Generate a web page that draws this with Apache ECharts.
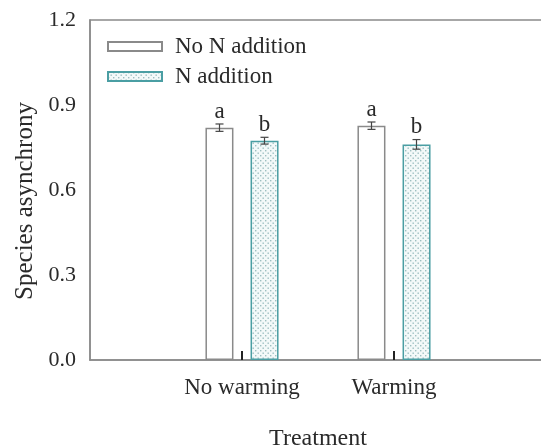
<!DOCTYPE html>
<html>
<head>
<meta charset="utf-8">
<script src="https://cdn.jsdelivr.net/npm/echarts@6/dist/echarts.min.js"></script>
<style>
  html, body { margin: 0; padding: 0; background: #fff; }
  #chart { width: 541px; height: 445px; }
</style>
</head>
<body>
<div id="chart"></div>
<script>
// data
const categories = ['', 'No warming', 'Warming', '']
const groupIndex = [1, 2]
const noNMean = [0.820, 0.827]
const noNErr = [0.013, 0.013]
const nMean = [0.774, 0.761]
const nErr = [0.012, 0.017]
const noNLetters = ['a', 'a']
const nLetters = ['b', 'b']
const yTicks = [0, 0.3, 0.6, 0.9, 1.2]

const FONT = '"Liberation Serif", "Times New Roman", serif'
const TEXT = '#2a2a2a'
const BAR_W = 28
const HALF_STEP = 22.5

// dotted fill for the N addition bars
function dotPattern() {
  const c = document.createElement('canvas')
  c.width = 5
  c.height = 5
  const ctx = c.getContext('2d')
  ctx.fillStyle = '#f3f9f9'
  ctx.fillRect(0, 0, 5, 5)
  ctx.fillStyle = '#9dbfc1'
  ctx.fillRect(0, 0, 1.4, 1.4)
  ctx.fillRect(2.5, 2.5, 1.4, 1.4)
  return c
}

function errSeries(means, errs, letters, offset) {
  return {
    type: 'custom',
    z: 5,
    data: groupIndex.map((g, i) => [g, means[i], errs[i], letters[i]]),
    renderItem: (params, api) => {
      const x = api.coord([api.value(0), 0])[0] + offset
      const yHi = api.coord([api.value(0), api.value(1) + api.value(2)])[1]
      const yLo = api.coord([api.value(0), api.value(1) - api.value(2)])[1]
      const line = { stroke: '#444', lineWidth: 1.2 }
      return {
        type: 'group',
        children: [
          { type: 'line', shape: { x1: x, y1: yHi, x2: x, y2: yLo }, style: line },
          { type: 'line', shape: { x1: x - 4, y1: yHi, x2: x + 4, y2: yHi }, style: line },
          { type: 'line', shape: { x1: x - 4, y1: yLo, x2: x + 4, y2: yLo }, style: line },
          {
            type: 'text',
            style: {
              text: api.value(3), x: x, y: yHi - 1,
              align: 'center', verticalAlign: 'bottom',
              font: '23px ' + FONT, fill: TEXT,
            },
          },
        ],
      }
    },
  }
}

const chart = echarts.init(document.getElementById('chart'))
chart.setOption({
  animation: false,
  backgroundColor: '#fff',
  grid: {
    left: 90, width: 456, top: 20, bottom: 85,
    containLabel: false, outerBoundsMode: 'none',
    show: true, borderColor: '#8a8a8a', borderWidth: 1.5,
  },
  legend: {
    orient: 'vertical',
    left: 102, top: 30,
    icon: 'rect',
    itemWidth: 54, itemHeight: 9, itemGap: 7,
    textStyle: {
      fontFamily: FONT, fontSize: 23, color: TEXT, lineHeight: 23,
      padding: [0, 0, 0, 8],
    },
    data: ['No N addition', 'N addition'],
  },
  xAxis: {
    type: 'category',
    data: categories,
    boundaryGap: false,
    name: 'Treatment',
    nameLocation: 'middle',
    nameGap: 67,
    nameTextStyle: { fontFamily: FONT, fontSize: 24, color: TEXT },
    axisLine: { lineStyle: { color: '#8a8a8a', width: 1.5 } },
    axisTick: {
      inside: true, length: 9,
      interval: (i) => i === 1 || i === 2,
      lineStyle: { color: '#222', width: 2 },
    },
    axisLabel: {
      margin: 16, interval: 0,
      fontFamily: FONT, fontSize: 23, color: TEXT,
    },
    splitLine: { show: false },
  },
  yAxis: {
    type: 'value',
    min: yTicks[0], max: yTicks[yTicks.length - 1], interval: 0.3,
    name: 'Species asynchrony',
    nameLocation: 'middle',
    nameGap: 50,
    nameTextStyle: { fontFamily: FONT, fontSize: 25, color: TEXT, padding: [0, 22, 0, 0] },
    axisLine: { show: true, lineStyle: { color: '#8a8a8a', width: 1.5 } },
    axisTick: { inside: true, length: 10, lineStyle: { color: '#222', width: 2 } },
    axisLabel: {
      margin: 14,
      fontFamily: FONT, fontSize: 22, color: TEXT,
      formatter: (v) => v.toFixed(1),
    },
    splitLine: { show: false },
  },
  series: [
    {
      name: 'No N addition',
      type: 'bar',
      barWidth: BAR_W,
      barGap: '61%',
      data: groupIndex.map((g, i) => [g, noNMean[i]]),
      itemStyle: { color: '#fff', borderColor: '#8a8a8a', borderWidth: 1.5 },
    },
    {
      name: 'N addition',
      type: 'bar',
      barWidth: BAR_W,
      data: groupIndex.map((g, i) => [g, nMean[i]]),
      itemStyle: {
        color: { image: dotPattern(), repeat: 'repeat' },
        borderColor: '#4a9ea3', borderWidth: 1.5,
      },
    },
    errSeries(noNMean, noNErr, noNLetters, -HALF_STEP),
    errSeries(nMean, nErr, nLetters, HALF_STEP),
  ],
})
</script>
</body>
</html>
